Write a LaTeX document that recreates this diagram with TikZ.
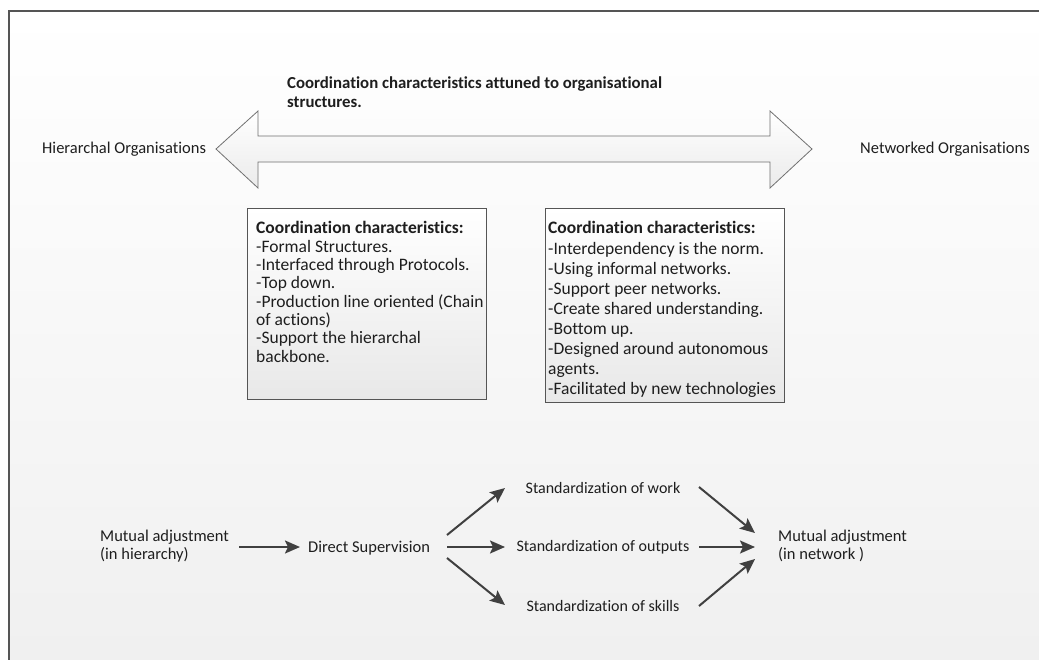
\documentclass[tikz,border=0pt]{standalone}
\usepackage{fontspec}
\setmainfont{Carlito}[Ligatures=NoCommon]
\usetikzlibrary{arrows.meta}
\definecolor{ink}{HTML}{1E1E1E}
\definecolor{linegray}{HTML}{404040}
\definecolor{framegray}{HTML}{555555}
\definecolor{edgegray}{HTML}{707070}
\begin{document}
\begin{tikzpicture}[x=1pt,y=-1pt,
  font=\fontsize{16.5}{18.3}\selectfont, text=ink,
  txt/.style={inner sep=0pt, anchor=west, align=left},
  flow/.style={draw=linegray, line width=2pt,
    -{Stealth[length=15pt,width=13pt,inset=3pt]}},
  infobox/.style={draw=framegray, line width=0.9pt, top color=white,
    bottom color=black!9, minimum width=239pt, inner sep=0pt, anchor=north west}]
\useasboundingbox (0,0) rectangle (1039,659);
\clip (0,0) rectangle (1039,659);
% page and frame
\fill[white] (0,0) rectangle (1039,659);
\shade[top color=white, bottom color=black!6] (9,11) rectangle (1050,670);
\draw[framegray, line width=1.4pt] (1050,11) -- (9,11) -- (9,670);

% double-headed block arrow
\draw[edgegray, line width=0.8pt, top color=white, bottom color=black!8]
  (216,149) -- (258,111) -- (258,136) -- (770,136) -- (770,111) -- (812,149)
  -- (770,188) -- (770,162) -- (258,162) -- (258,188) -- cycle;

\node[txt, font=\bfseries\fontsize{16.8}{18.3}\selectfont, anchor=north west]
  (title) at (287,77) {Coordination characteristics attuned to organisational\\structures.};
\node[txt] (hier) at (42,149) {Hierarchal Organisations};
\node[txt] (netw) at (860,149) {Networked Organisations};

% characteristic boxes
\node[infobox, minimum height=191pt] (hbox) at (247,208) {};
\node[infobox, minimum height=194pt] (nbox) at (545,208) {};
\node[txt, anchor=north west, font=\fontsize{17.5}{18.3}\selectfont] (htext)
  at ([shift={(9,13.5)}]hbox.north west)
  {\textbf{Coordination characteristics:}\\
   -Formal Structures.\\
   -Interfaced through Protocols.\\
   -Top down.\\
   -Production line oriented (Chain\\
   of actions)\\
   -Support the hierarchal\\
   backbone.};
\node[txt, anchor=north west, font=\fontsize{17.5}{20.1}\selectfont] (ntext)
  at ([shift={(3,13.5)}]nbox.north west)
  {\textbf{Coordination characteristics:}\\
   -Interdependency is the norm.\\
   -Using informal networks.\\
   -Support peer networks.\\
   -Create shared understanding.\\
   -Bottom up.\\
   -Designed around autonomous\\
   agents.\\
   -Facilitated by new technologies};

% coordination mechanisms
\node[txt] (madjh) at (100,546) {Mutual adjustment\\(in hierarchy)};
\node[txt] (dsup) at (308,548) {Direct Supervision};
\node[inner sep=0pt, font=\fontsize{16}{18}\selectfont] (swork) at (603,488) {Standardization of work};
\node[inner sep=0pt, font=\fontsize{16}{18}\selectfont] (sout) at (603,547) {Standardization of outputs};
\node[inner sep=0pt, font=\fontsize{16}{18}\selectfont] (sskill) at (603,606) {Standardization of skills};
\node[txt] (madjn) at (778,546) {Mutual adjustment\\(in network )};

\draw[flow] ([shift={(139,1)}]madjh.west) -- ([shift={(-8,-1)}]dsup.west);
\draw[flow] ([shift={(139,-13)}]dsup.west) -- ([shift={(-98,0)}]swork.center);
\draw[flow] ([shift={(139,-1)}]dsup.west) -- ([shift={(-98,0)}]sout.center);
\draw[flow] ([shift={(139,10)}]dsup.west) -- ([shift={(-98,-1)}]sskill.center);
\draw[flow] ([shift={(96,-1)}]swork.center) -- ([shift={(-23,-13)}]madjn.west);
\draw[flow] ([shift={(96,0)}]sout.center) -- ([shift={(-23,1)}]madjn.west);
\draw[flow] ([shift={(96,0)}]sskill.center) -- ([shift={(-23,13)}]madjn.west);
\end{tikzpicture}
\end{document}
